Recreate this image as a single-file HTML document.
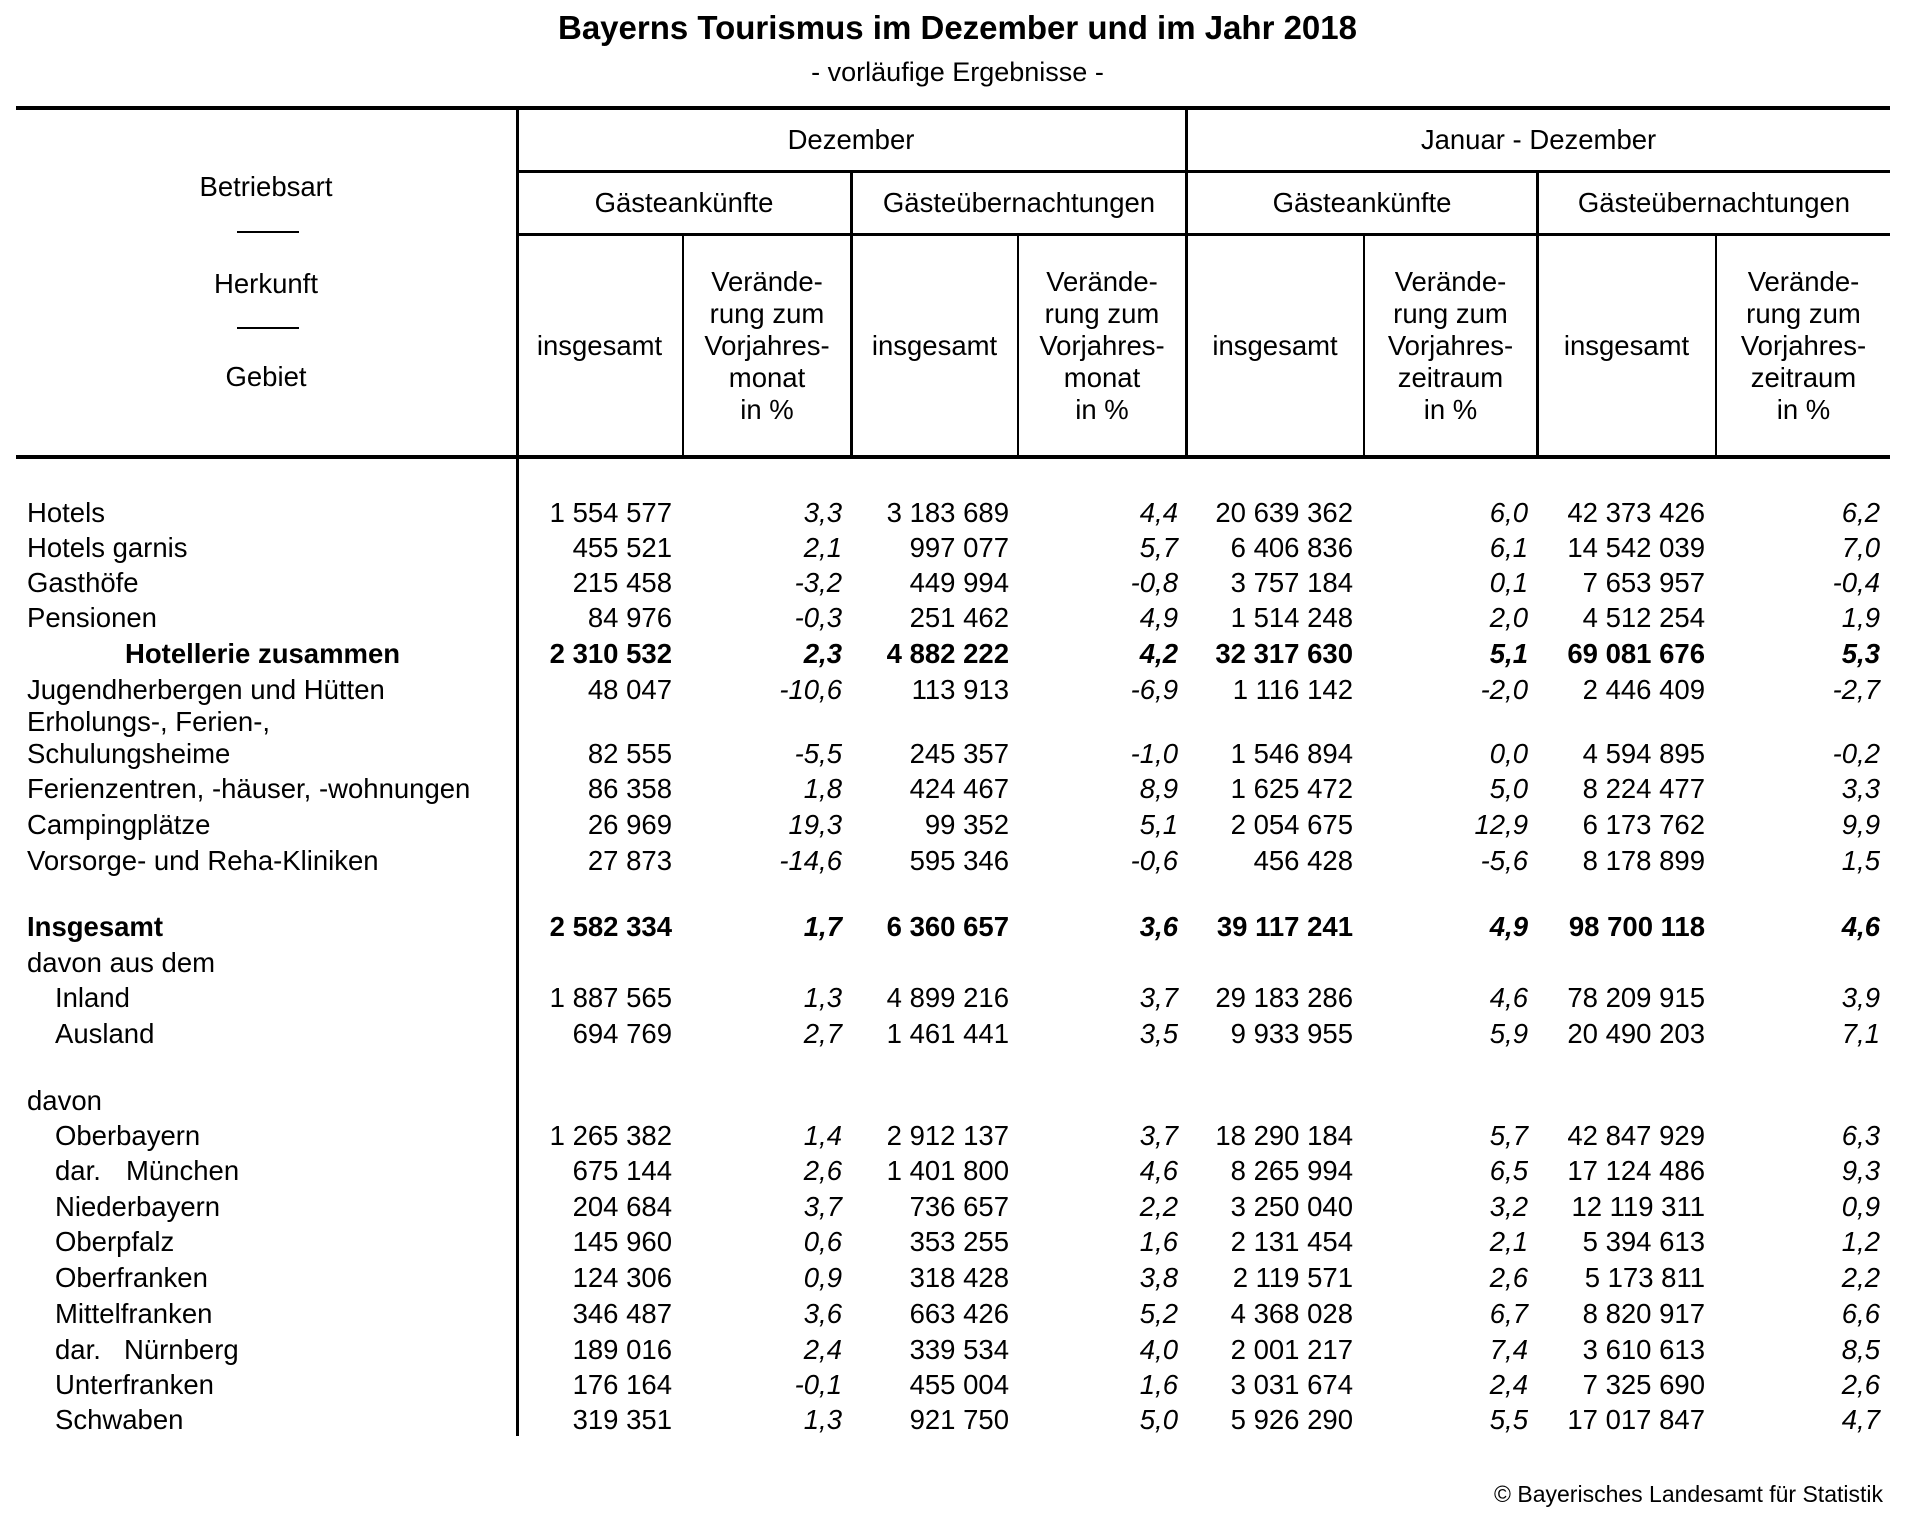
<!DOCTYPE html>
<html><head><meta charset="utf-8"><style>
body{margin:0;background:#fff;}
#p{position:relative;width:1915px;height:1520px;overflow:hidden;font-family:"Liberation Sans",Arial,sans-serif;color:#000;font-size:27.5px;}
.l{position:absolute;background:#000;}
.t{position:absolute;white-space:nowrap;line-height:32px;}
.c{position:absolute;text-align:center;line-height:32px;white-space:nowrap;}
.r{position:absolute;left:0;width:1915px;height:32px;line-height:32px;white-space:nowrap;}
.r span{position:absolute;top:0;}
.a{left:27px}.i{left:55px}
.c1{right:1243px}.c2{right:1073px;font-style:italic}.c3{right:906px}.c4{right:737px;font-style:italic}
.c5{right:562px}.c6{right:387px;font-style:italic}.c7{right:210px}.c8{right:35px;font-style:italic}
.b{font-weight:bold}
</style></head><body><div id="p">
<div class="c" style="left:0;width:1915px;top:12px;font-size:33px;font-weight:bold">Bayerns Tourismus im Dezember und im Jahr 2018</div>
<div class="c" style="left:0;width:1915px;top:56px;font-size:27px">- vorläufige Ergebnisse -</div>

<div class="l" style="left:16px;top:106px;width:1874px;height:4px"></div>
<div class="l" style="left:16px;top:455px;width:1874px;height:4px"></div>
<div class="l" style="left:516px;top:106px;width:3px;height:1330px"></div>
<div class="l" style="left:517px;top:170px;width:1373px;height:3px"></div>
<div class="l" style="left:517px;top:233px;width:1373px;height:3px"></div>
<div class="l" style="left:1185px;top:106px;width:3px;height:351px"></div>
<div class="l" style="left:850px;top:170px;width:3px;height:287px"></div>
<div class="l" style="left:1536px;top:170px;width:3px;height:287px"></div>
<div class="l" style="left:682px;top:233px;width:2px;height:224px"></div>
<div class="l" style="left:1017px;top:233px;width:2px;height:224px"></div>
<div class="l" style="left:1363px;top:233px;width:2px;height:224px"></div>
<div class="l" style="left:1715px;top:233px;width:2px;height:224px"></div>
<div class="l" style="left:237px;top:231px;width:62px;height:2px"></div>
<div class="l" style="left:237px;top:327px;width:62px;height:2px"></div>

<div class="c" style="left:16px;width:500px;top:171px">Betriebsart</div>
<div class="c" style="left:16px;width:500px;top:268px">Herkunft</div>
<div class="c" style="left:16px;width:500px;top:361px">Gebiet</div>
<div class="c" style="left:517px;width:668px;top:124px">Dezember</div>
<div class="c" style="left:1187px;width:703px;top:124px">Januar - Dezember</div>
<div class="c" style="left:517px;width:334px;top:187px">Gästeankünfte</div>
<div class="c" style="left:852px;width:334px;top:187px">Gästeübernachtungen</div>
<div class="c" style="left:1187px;width:350px;top:187px">Gästeankünfte</div>
<div class="c" style="left:1538px;width:352px;top:187px">Gästeübernachtungen</div>
<div class="c" style="left:517px;width:165px;top:330px">insgesamt</div>
<div class="c" style="left:852px;width:165px;top:330px">insgesamt</div>
<div class="c" style="left:1187px;width:176px;top:330px">insgesamt</div>
<div class="c" style="left:1538px;width:177px;top:330px">insgesamt</div>
<div class="c" style="left:684px;width:166px;top:266px">Verände-<br>rung zum<br>Vorjahres-<br>monat<br>in %</div>
<div class="c" style="left:1019px;width:166px;top:266px">Verände-<br>rung zum<br>Vorjahres-<br>monat<br>in %</div>
<div class="c" style="left:1365px;width:171px;top:266px">Verände-<br>rung zum<br>Vorjahres-<br>zeitraum<br>in %</div>
<div class="c" style="left:1717px;width:173px;top:266px">Verände-<br>rung zum<br>Vorjahres-<br>zeitraum<br>in %</div>

<div class="r" style="top:497px"><span class="a">Hotels</span><span class="c1">1 554 577</span><span class="c2">3,3</span><span class="c3">3 183 689</span><span class="c4">4,4</span><span class="c5">20 639 362</span><span class="c6">6,0</span><span class="c7">42 373 426</span><span class="c8">6,2</span></div>
<div class="r" style="top:532px"><span class="a">Hotels garnis</span><span class="c1">455 521</span><span class="c2">2,1</span><span class="c3">997 077</span><span class="c4">5,7</span><span class="c5">6 406 836</span><span class="c6">6,1</span><span class="c7">14 542 039</span><span class="c8">7,0</span></div>
<div class="r" style="top:567px"><span class="a">Gasthöfe</span><span class="c1">215 458</span><span class="c2">-3,2</span><span class="c3">449 994</span><span class="c4">-0,8</span><span class="c5">3 757 184</span><span class="c6">0,1</span><span class="c7">7 653 957</span><span class="c8">-0,4</span></div>
<div class="r" style="top:602px"><span class="a">Pensionen</span><span class="c1">84 976</span><span class="c2">-0,3</span><span class="c3">251 462</span><span class="c4">4,9</span><span class="c5">1 514 248</span><span class="c6">2,0</span><span class="c7">4 512 254</span><span class="c8">1,9</span></div>
<div class="r b" style="top:638px"><span style="left:125px">Hotellerie zusammen</span><span class="c1">2 310 532</span><span class="c2">2,3</span><span class="c3">4 882 222</span><span class="c4">4,2</span><span class="c5">32 317 630</span><span class="c6">5,1</span><span class="c7">69 081 676</span><span class="c8">5,3</span></div>
<div class="r" style="top:674px"><span class="a">Jugendherbergen und Hütten</span><span class="c1">48 047</span><span class="c2">-10,6</span><span class="c3">113 913</span><span class="c4">-6,9</span><span class="c5">1 116 142</span><span class="c6">-2,0</span><span class="c7">2 446 409</span><span class="c8">-2,7</span></div>
<div class="r" style="top:706px"><span class="a">Erholungs-, Ferien-,</span></div>
<div class="r" style="top:738px"><span class="a">Schulungsheime</span><span class="c1">82 555</span><span class="c2">-5,5</span><span class="c3">245 357</span><span class="c4">-1,0</span><span class="c5">1 546 894</span><span class="c6">0,0</span><span class="c7">4 594 895</span><span class="c8">-0,2</span></div>
<div class="r" style="top:773px"><span class="a">Ferienzentren, -häuser, -wohnungen</span><span class="c1">86 358</span><span class="c2">1,8</span><span class="c3">424 467</span><span class="c4">8,9</span><span class="c5">1 625 472</span><span class="c6">5,0</span><span class="c7">8 224 477</span><span class="c8">3,3</span></div>
<div class="r" style="top:809px"><span class="a">Campingplätze</span><span class="c1">26 969</span><span class="c2">19,3</span><span class="c3">99 352</span><span class="c4">5,1</span><span class="c5">2 054 675</span><span class="c6">12,9</span><span class="c7">6 173 762</span><span class="c8">9,9</span></div>
<div class="r" style="top:845px"><span class="a">Vorsorge- und Reha-Kliniken</span><span class="c1">27 873</span><span class="c2">-14,6</span><span class="c3">595 346</span><span class="c4">-0,6</span><span class="c5">456 428</span><span class="c6">-5,6</span><span class="c7">8 178 899</span><span class="c8">1,5</span></div>
<div class="r b" style="top:911px"><span class="a">Insgesamt</span><span class="c1">2 582 334</span><span class="c2">1,7</span><span class="c3">6 360 657</span><span class="c4">3,6</span><span class="c5">39 117 241</span><span class="c6">4,9</span><span class="c7">98 700 118</span><span class="c8">4,6</span></div>
<div class="r" style="top:947px"><span class="a">davon aus dem</span></div>
<div class="r" style="top:982px"><span class="i">Inland</span><span class="c1">1 887 565</span><span class="c2">1,3</span><span class="c3">4 899 216</span><span class="c4">3,7</span><span class="c5">29 183 286</span><span class="c6">4,6</span><span class="c7">78 209 915</span><span class="c8">3,9</span></div>
<div class="r" style="top:1018px"><span class="i">Ausland</span><span class="c1">694 769</span><span class="c2">2,7</span><span class="c3">1 461 441</span><span class="c4">3,5</span><span class="c5">9 933 955</span><span class="c6">5,9</span><span class="c7">20 490 203</span><span class="c8">7,1</span></div>
<div class="r" style="top:1085px"><span class="a">davon</span></div>
<div class="r" style="top:1120px"><span class="i">Oberbayern</span><span class="c1">1 265 382</span><span class="c2">1,4</span><span class="c3">2 912 137</span><span class="c4">3,7</span><span class="c5">18 290 184</span><span class="c6">5,7</span><span class="c7">42 847 929</span><span class="c8">6,3</span></div>
<div class="r" style="top:1155px"><span class="i">dar.</span><span style="left:126px">München</span><span class="c1">675 144</span><span class="c2">2,6</span><span class="c3">1 401 800</span><span class="c4">4,6</span><span class="c5">8 265 994</span><span class="c6">6,5</span><span class="c7">17 124 486</span><span class="c8">9,3</span></div>
<div class="r" style="top:1191px"><span class="i">Niederbayern</span><span class="c1">204 684</span><span class="c2">3,7</span><span class="c3">736 657</span><span class="c4">2,2</span><span class="c5">3 250 040</span><span class="c6">3,2</span><span class="c7">12 119 311</span><span class="c8">0,9</span></div>
<div class="r" style="top:1226px"><span class="i">Oberpfalz</span><span class="c1">145 960</span><span class="c2">0,6</span><span class="c3">353 255</span><span class="c4">1,6</span><span class="c5">2 131 454</span><span class="c6">2,1</span><span class="c7">5 394 613</span><span class="c8">1,2</span></div>
<div class="r" style="top:1262px"><span class="i">Oberfranken</span><span class="c1">124 306</span><span class="c2">0,9</span><span class="c3">318 428</span><span class="c4">3,8</span><span class="c5">2 119 571</span><span class="c6">2,6</span><span class="c7">5 173 811</span><span class="c8">2,2</span></div>
<div class="r" style="top:1298px"><span class="i">Mittelfranken</span><span class="c1">346 487</span><span class="c2">3,6</span><span class="c3">663 426</span><span class="c4">5,2</span><span class="c5">4 368 028</span><span class="c6">6,7</span><span class="c7">8 820 917</span><span class="c8">6,6</span></div>
<div class="r" style="top:1334px"><span class="i">dar.</span><span style="left:124px">Nürnberg</span><span class="c1">189 016</span><span class="c2">2,4</span><span class="c3">339 534</span><span class="c4">4,0</span><span class="c5">2 001 217</span><span class="c6">7,4</span><span class="c7">3 610 613</span><span class="c8">8,5</span></div>
<div class="r" style="top:1369px"><span class="i">Unterfranken</span><span class="c1">176 164</span><span class="c2">-0,1</span><span class="c3">455 004</span><span class="c4">1,6</span><span class="c5">3 031 674</span><span class="c6">2,4</span><span class="c7">7 325 690</span><span class="c8">2,6</span></div>
<div class="r" style="top:1404px"><span class="i">Schwaben</span><span class="c1">319 351</span><span class="c2">1,3</span><span class="c3">921 750</span><span class="c4">5,0</span><span class="c5">5 926 290</span><span class="c6">5,5</span><span class="c7">17 017 847</span><span class="c8">4,7</span></div>

<div class="t" style="right:32px;top:1478px;font-size:23px">© Bayerisches Landesamt für Statistik</div>
</div></body></html>
